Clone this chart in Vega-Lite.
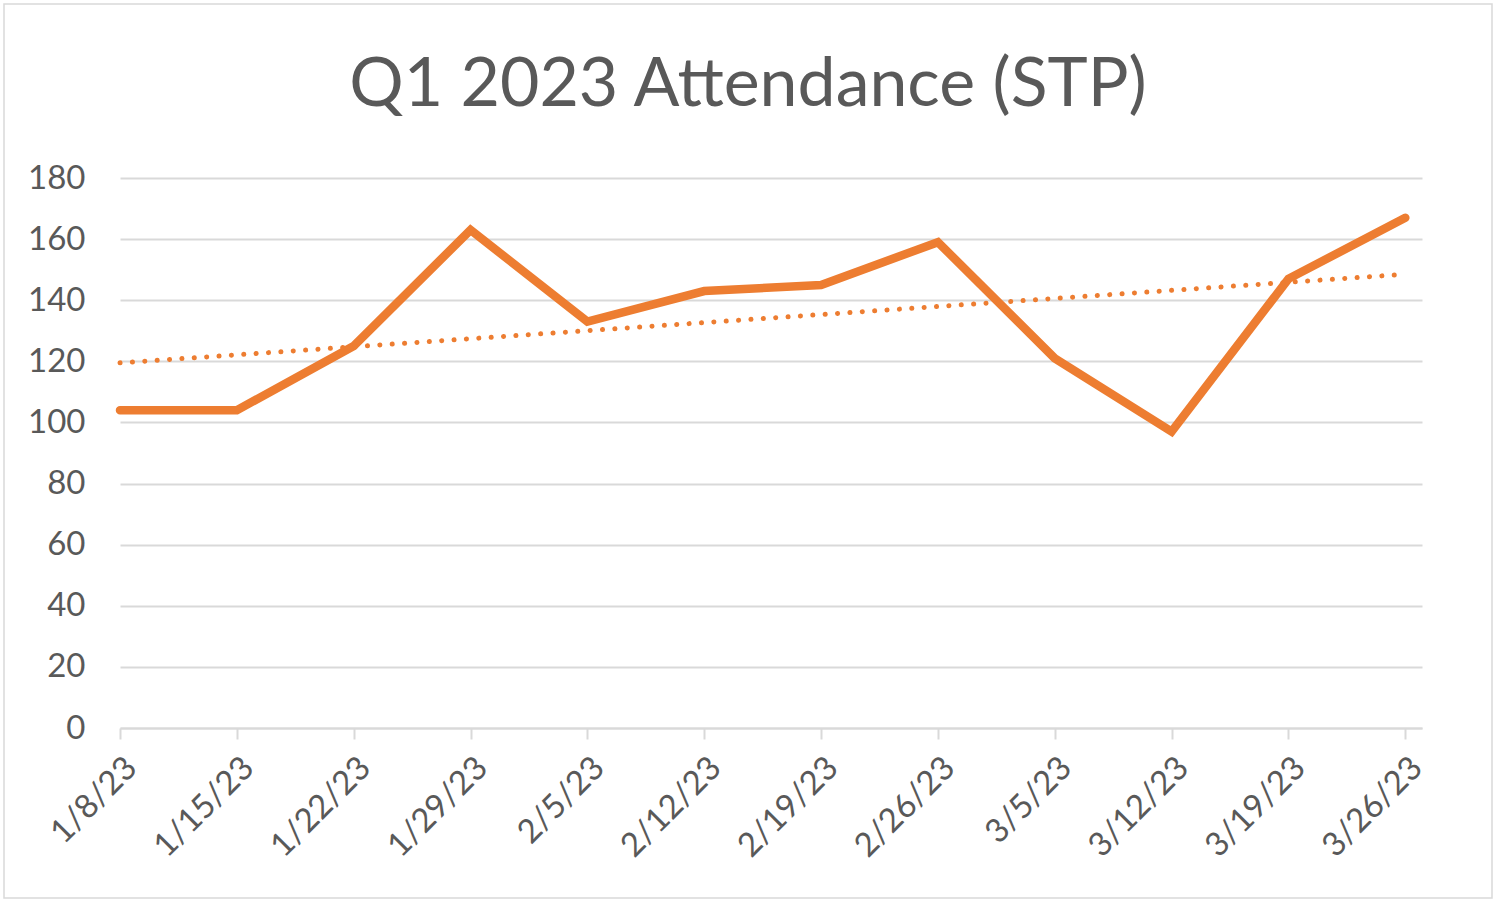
{
  "$schema": "https://vega.github.io/schema/vega-lite/v6.json",
  "width": 1488,
  "height": 894,
  "autosize": "none",
  "padding": {"left": 4, "top": 4, "right": 8, "bottom": 7},
  "title": {
    "text": "Q1 2023 Attendance (STP)",
    "anchor": "middle",
    "frame": "group",
    "orient": "top",
    "offset": -116,
    "font": "Lato",
    "fontSize": 68,
    "fontWeight": "normal",
    "color": "#595959"
  },
  "data": {
    "values": [
      {"week": "2023-01-08T00:00:00", "attendance": 104},
      {"week": "2023-01-15T00:00:00", "attendance": 104},
      {"week": "2023-01-22T00:00:00", "attendance": 125},
      {"week": "2023-01-29T00:00:00", "attendance": 163},
      {"week": "2023-02-05T00:00:00", "attendance": 133},
      {"week": "2023-02-12T00:00:00", "attendance": 143},
      {"week": "2023-02-19T00:00:00", "attendance": 145},
      {"week": "2023-02-26T00:00:00", "attendance": 159},
      {"week": "2023-03-05T00:00:00", "attendance": 121},
      {"week": "2023-03-12T00:00:00", "attendance": 97},
      {"week": "2023-03-19T00:00:00", "attendance": 147},
      {"week": "2023-03-26T00:00:00", "attendance": 167}
    ],
    "format": {"parse": {"week": "date"}}
  },
  "encoding": {
    "x": {
      "field": "week",
      "type": "temporal",
      "scale": {
        "domain": [
          {"year": 2023, "month": 1, "date": 8},
          {"year": 2023, "month": 3, "date": 27}
        ],
        "range": [116, 1418]
      },
      "axis": {
        "orient": "bottom",
        "offset": -170,
        "title": null,
        "grid": false,
        "values": [
          {"year": 2023, "month": 1, "date": 8},
          {"year": 2023, "month": 1, "date": 15},
          {"year": 2023, "month": 1, "date": 22},
          {"year": 2023, "month": 1, "date": 29},
          {"year": 2023, "month": 2, "date": 5},
          {"year": 2023, "month": 2, "date": 12},
          {"year": 2023, "month": 2, "date": 19},
          {"year": 2023, "month": 2, "date": 26},
          {"year": 2023, "month": 3, "date": 5},
          {"year": 2023, "month": 3, "date": 12},
          {"year": 2023, "month": 3, "date": 19},
          {"year": 2023, "month": 3, "date": 26}
        ],
        "format": "%-m/%-d/%y",
        "labelAngle": -45,
        "labelOverlap": false,
        "labelFlush": false,
        "labelBound": false,
        "labelPadding": 12,
        "labelFont": "Lato",
        "labelFontSize": 33,
        "labelColor": "#595959",
        "domainColor": "#d9d9d9",
        "domainWidth": 2,
        "tickColor": "#d9d9d9",
        "tickWidth": 2,
        "tickSize": 11
      }
    },
    "y": {
      "field": "attendance",
      "type": "quantitative",
      "scale": {"domain": [0, 180], "range": [724, 174], "nice": false, "zero": true},
      "axis": {
        "title": null,
        "offset": -96,
        "values": [0, 20, 40, 60, 80, 100, 120, 140, 160, 180],
        "domain": false,
        "ticks": false,
        "grid": true,
        "gridColor": "#d9d9d9",
        "gridWidth": 2,
        "labelPadding": 15,
        "labelFont": "Lato",
        "labelFontSize": 33,
        "labelColor": "#595959"
      }
    }
  },
  "layer": [
    {
      "mark": {
        "type": "line",
        "color": "#ED7D31",
        "strokeWidth": 8.5,
        "strokeCap": "round",
        "strokeJoin": "miter"
      }
    },
    {
      "transform": [{"regression": "attendance", "on": "week"}],
      "mark": {
        "type": "line",
        "color": "#ED7D31",
        "strokeWidth": 5,
        "strokeCap": "round",
        "strokeDash": [0.1, 12.3]
      }
    }
  ],
  "config": {
    "view": {"stroke": "#d9d9d9", "strokeWidth": 1.5},
    "background": "white"
  }
}
